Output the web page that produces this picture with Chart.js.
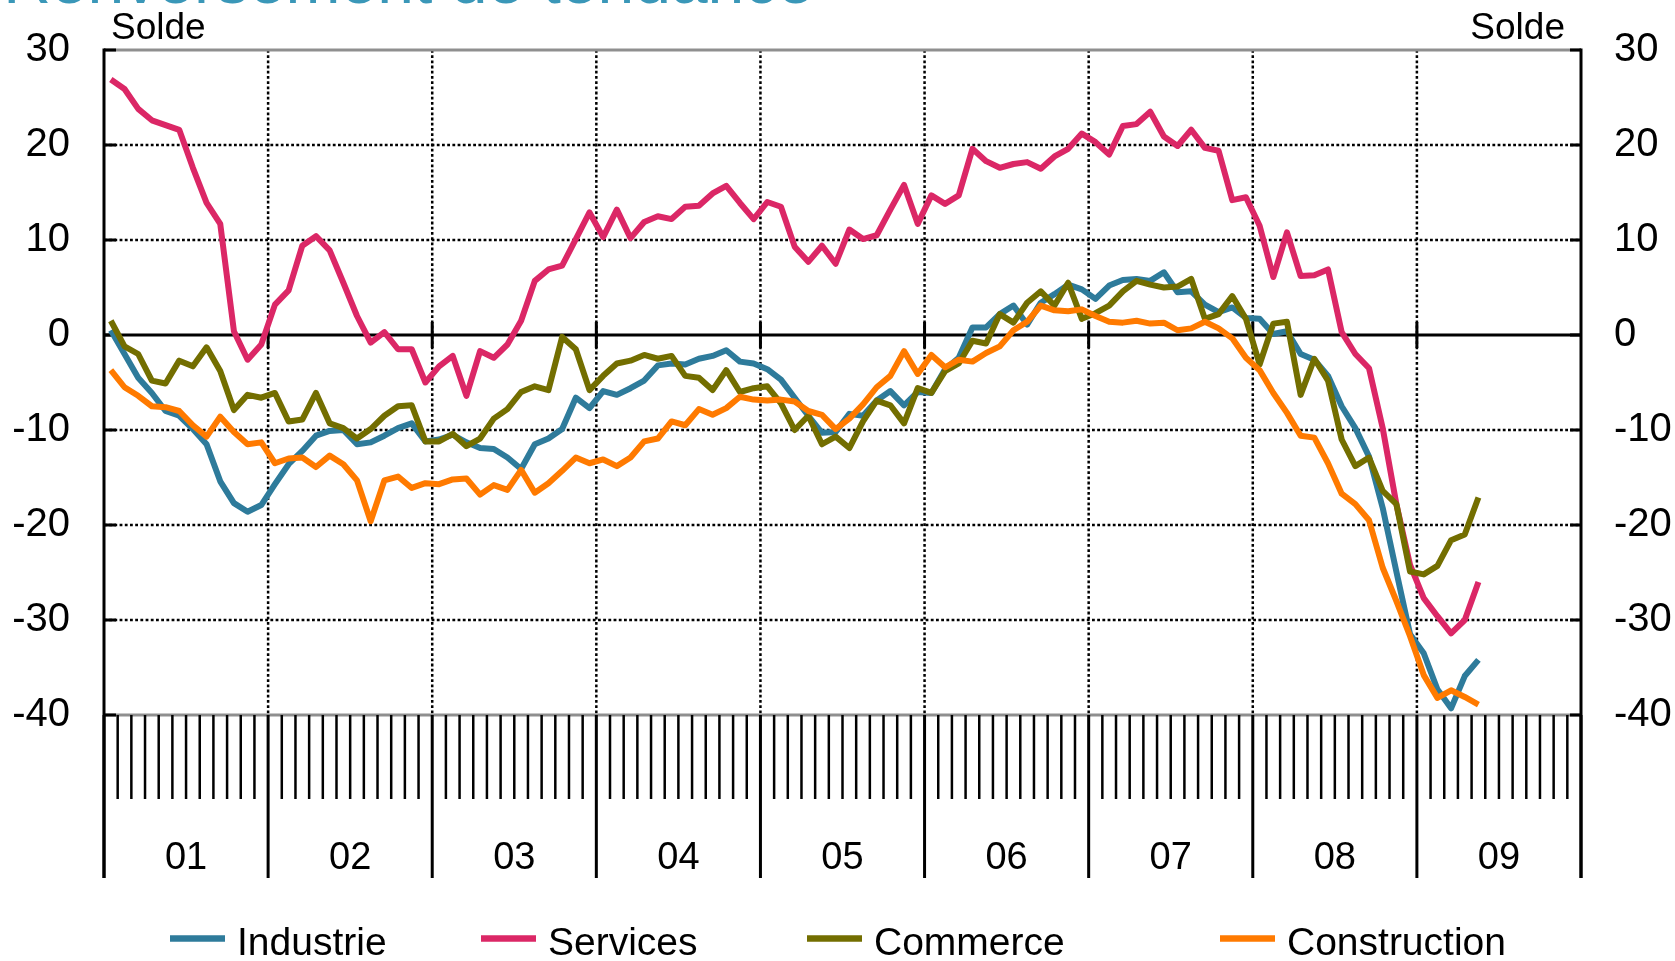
<!DOCTYPE html>
<html>
<head>
<meta charset="utf-8">
<script src="https://cdn.jsdelivr.net/npm/chart.js@4.4.1/dist/chart.umd.min.js"></script>
<style>
html,body{margin:0;padding:0;background:#fff;}
canvas{display:block;}
</style>
</head>
<body>
<canvas id="c" width="1675" height="961"></canvas>
<script>
// ---- data (monthly balances, Jan 2001 -> May 2009) ----
const yearLabels = ['01','02','03','04','05','06','07','08','09'];
const monthsPerYear = 12;
const yTicks = [30, 20, 10, 0, -10, -20, -30, -40];
const seriesNames = ['Industrie', 'Services', 'Commerce', 'Construction'];
const unitLabel = 'Solde';
const titleText = 'Renversement de tendance';

const industrie = [0.5,-2.0,-4.5,-6.1,-8.0,-8.5,-9.9,-11.5,-15.4,-17.7,-18.6,-17.9,
  -15.7,-13.6,-12.2,-10.6,-10.1,-10.0,-11.5,-11.3,-10.6,-9.8,-9.3,-11.2,
  -11.0,-10.5,-11.3,-11.9,-12.0,-12.9,-14.1,-11.5,-10.9,-9.9,-6.6,-7.7,
  -5.9,-6.3,-5.6,-4.8,-3.2,-3.0,-3.1,-2.5,-2.2,-1.6,-2.8,-3.0,
  -3.6,-4.7,-6.6,-8.5,-10.3,-10.2,-8.3,-8.5,-6.9,-5.9,-7.4,-6.0,
  -6.1,-3.6,-2.4,0.8,0.8,2.2,3.1,1.1,3.4,4.3,5.3,4.8,
  3.8,5.2,5.8,5.9,5.7,6.6,4.5,4.6,3.2,2.4,2.9,1.8,
  1.7,0.1,0.4,-2.0,-2.6,-4.3,-7.5,-9.8,-12.8,-18.2,-24.9,-31.5,
  -33.5,-37.3,-39.3,-35.9,-34.2];

const services = [26.9,25.9,23.8,22.6,22.1,21.6,17.6,13.9,11.7,0.4,-2.6,-1.0,
  3.2,4.7,9.4,10.4,8.9,5.5,2.0,-0.8,0.3,-1.5,-1.5,-5.0,
  -3.3,-2.2,-6.4,-1.7,-2.4,-1.0,1.5,5.7,6.9,7.3,10.1,12.9,
  10.3,13.2,10.2,11.9,12.5,12.2,13.5,13.6,14.9,15.7,13.9,12.2,
  14.0,13.5,9.3,7.7,9.4,7.5,11.1,10.1,10.5,13.2,15.8,11.7,
  14.7,13.8,14.7,19.6,18.3,17.6,18.0,18.2,17.5,18.8,19.6,21.2,
  20.3,19.0,22.0,22.2,23.5,20.9,19.9,21.6,19.7,19.4,14.2,14.5,
  11.5,6.1,10.8,6.2,6.3,6.9,0.3,-2.0,-3.5,-9.8,-17.8,-24.2,
  -27.7,-29.6,-31.4,-30.0,-26.0];

const commerce = [1.5,-1.2,-2.0,-4.8,-5.1,-2.7,-3.3,-1.3,-3.8,-7.9,-6.3,-6.6,
  -6.1,-9.1,-8.9,-6.1,-9.3,-9.8,-10.9,-9.9,-8.5,-7.5,-7.4,-11.2,
  -11.2,-10.4,-11.7,-10.9,-8.8,-7.8,-6.0,-5.4,-5.8,-0.2,-1.5,-5.8,
  -4.3,-3.0,-2.7,-2.1,-2.5,-2.2,-4.3,-4.5,-5.8,-3.7,-6.0,-5.6,
  -5.4,-7.2,-10.0,-8.5,-11.5,-10.7,-11.9,-9.1,-6.9,-7.4,-9.3,-5.6,
  -6.1,-3.8,-3.0,-0.6,-0.9,2.2,1.3,3.4,4.6,3.1,5.5,1.7,
  2.3,3.1,4.6,5.7,5.3,5.0,5.1,5.9,1.7,2.2,4.1,1.7,
  -3.1,1.2,1.4,-6.3,-2.5,-4.8,-11.0,-13.8,-12.9,-16.4,-17.8,-24.9,
  -25.2,-24.3,-21.6,-21.0,-17.1];

const construction = [-3.7,-5.5,-6.4,-7.5,-7.6,-8.0,-9.5,-10.7,-8.6,-10.2,-11.5,-11.3,
  -13.5,-13.0,-12.9,-13.9,-12.7,-13.6,-15.3,-19.6,-15.3,-14.9,-16.1,-15.6,
  -15.7,-15.2,-15.1,-16.8,-15.8,-16.3,-14.2,-16.6,-15.6,-14.3,-12.9,-13.5,
  -13.1,-13.8,-12.9,-11.2,-10.9,-9.1,-9.5,-7.8,-8.4,-7.7,-6.5,-6.8,
  -6.9,-6.8,-7.0,-8.0,-8.4,-9.9,-8.8,-7.3,-5.5,-4.3,-1.7,-4.1,
  -2.1,-3.4,-2.6,-2.8,-1.9,-1.2,0.5,1.4,3.1,2.6,2.5,2.7,
  2.0,1.4,1.3,1.5,1.2,1.3,0.5,0.7,1.4,0.7,-0.35,-2.4,
  -3.7,-6.1,-8.2,-10.6,-10.8,-13.5,-16.7,-17.8,-19.5,-24.5,-28.0,-31.7,
  -35.8,-38.2,-37.4,-38.1,-38.9];

// ---- styles ----
const seriesColors = ['#2e7b9b', '#db2766', '#736e00', '#ff7a00'];
const FONT = '"Liberation Sans", Arial, sans-serif';
const legendX = [170, 481, 807, 1220];

function toPoints(arr){ return arr.map((v,i)=>({x:i+0.5, y:v})); }
const seriesData = [industrie, services, commerce, construction];

const totalMonths = yearLabels.length * monthsPerYear;

function seg(ctx,x1,y1,x2,y2){ ctx.beginPath(); ctx.moveTo(x1,y1); ctx.lineTo(x2,y2); ctx.stroke(); }

const framePlugin = {
  id: 'frame',
  beforeDatasetsDraw(chart){
    const {ctx, chartArea:a} = chart;
    const x = chart.scales.x, y = chart.scales.y;
    ctx.save();
    // dotted grid
    ctx.strokeStyle = '#000'; ctx.lineWidth = 2.5; ctx.setLineDash([2.8,2.4]);
    yTicks.forEach(v=>{
      if (v===0 || v===yTicks[0] || v===yTicks[yTicks.length-1]) return;
      const py = y.getPixelForValue(v);
      seg(ctx, a.left, py, a.right, py);
    });
    for (let k=1;k<yearLabels.length;k++){
      const px = x.getPixelForValue(k*monthsPerYear);
      seg(ctx, px, a.top, px, a.bottom);
    }
    ctx.setLineDash([]);
    // top/bottom grey borders
    ctx.strokeStyle = '#8f8f8f'; ctx.lineWidth = 3;
    seg(ctx, a.left, a.top, a.right, a.top);
    seg(ctx, a.left, a.bottom, a.right, a.bottom);
    // zero line
    const y0 = y.getPixelForValue(0);
    ctx.strokeStyle = '#000'; ctx.lineWidth = 3;
    seg(ctx, a.left, y0, a.right, y0);
    for (let k=1;k<yearLabels.length;k++){
      const px = x.getPixelForValue(k*monthsPerYear);
      seg(ctx, px, y0-13, px, y0+13);
    }
    // inward axis ticks
    yTicks.forEach(v=>{
      const py = y.getPixelForValue(v);
      seg(ctx, a.left, py, a.left+12, py);
      seg(ctx, a.right-11, py, a.right, py);
    });
    ctx.restore();
  },
  afterDraw(chart){
    const {ctx, chartArea:a} = chart;
    const x = chart.scales.x;
    ctx.save();
    ctx.strokeStyle = '#000';
    // month ticks under the plot
    ctx.lineWidth = 2.5;
    for (let m=1;m<totalMonths;m++){
      if (m % monthsPerYear === 0) continue;
      const px = x.getPixelForValue(m);
      seg(ctx, px, a.bottom, px, a.bottom+84);
    }
    // year separators
    ctx.lineWidth = 3;
    for (let k=0;k<=yearLabels.length;k++){
      const px = x.getPixelForValue(k*monthsPerYear);
      seg(ctx, px, a.bottom, px, a.bottom+163);
    }
    // axis lines
    seg(ctx, a.left, a.top-1.5, a.left, a.bottom+163);
    seg(ctx, a.right, a.top-1.5, a.right, a.bottom+163);
    // year labels
    ctx.fillStyle = '#000';
    ctx.font = '38px ' + FONT;
    ctx.textAlign = 'center'; ctx.textBaseline = 'alphabetic';
    yearLabels.forEach((lab,k)=>{
      const px = x.getPixelForValue(k*monthsPerYear + monthsPerYear/2);
      ctx.fillText(lab, px, 869);
    });
    // unit labels
    ctx.font = '37px ' + FONT;
    ctx.textAlign = 'left';
    ctx.fillText(unitLabel, 111, 39);
    ctx.textAlign = 'right';
    ctx.fillText(unitLabel, 1565, 39);
    // legend
    ctx.font = '39px ' + FONT;
    ctx.textAlign = 'left';
    chart.data.datasets.forEach((ds,i)=>{
      const lx = legendX[i];
      ctx.strokeStyle = ds.borderColor; ctx.lineWidth = 6.5;
      seg(ctx, lx, 938.5, lx+55, 938.5);
      ctx.fillStyle = '#000';
      ctx.fillText(ds.label, lx+67, 955);
    });
    // title (cut off at the top edge, as in the original)
    ctx.fillStyle = '#3a97b8';
    ctx.font = '66px ' + FONT;
    ctx.textAlign = 'right';
    ctx.fillText(titleText, 814, 3);
    ctx.restore();
  }
};

const tickFont = {family: FONT, size: 40};

new Chart(document.getElementById('c'), {
  type: 'line',
  data: {
    datasets: seriesNames.map((name,i)=>({
      label: name,
      data: toPoints(seriesData[i]),
      borderColor: seriesColors[i],
      backgroundColor: seriesColors[i],
      borderWidth: 6,
      pointRadius: 0,
      tension: 0,
      fill: false,
      borderJoinStyle: 'round',
      order: 3 - i
    }))
  },
  options: {
    responsive: false,
    animation: false,
    layout: {padding: {top: 50, bottom: 246, left: 0, right: 0}},
    plugins: {legend: {display: false}, tooltip: {enabled: false}},
    scales: {
      x: {type: 'linear', min: 0, max: totalMonths, display: false},
      y: {
        position: 'left', min: -40, max: 30,
        ticks: {stepSize: 10, color: '#000', font: tickFont, padding: 26},
        grid: {display: false}, border: {display: false},
        afterFit(s){ s.width = 104; s.paddingTop = 0; s.paddingBottom = 0; }
      },
      y2: {
        position: 'right', min: -40, max: 30,
        ticks: {stepSize: 10, color: '#000', font: tickFont, padding: 25},
        grid: {display: false}, border: {display: false},
        afterFit(s){ s.width = 94; s.paddingTop = 0; s.paddingBottom = 0; }
      }
    }
  },
  plugins: [framePlugin]
});
</script>
</body>
</html>
